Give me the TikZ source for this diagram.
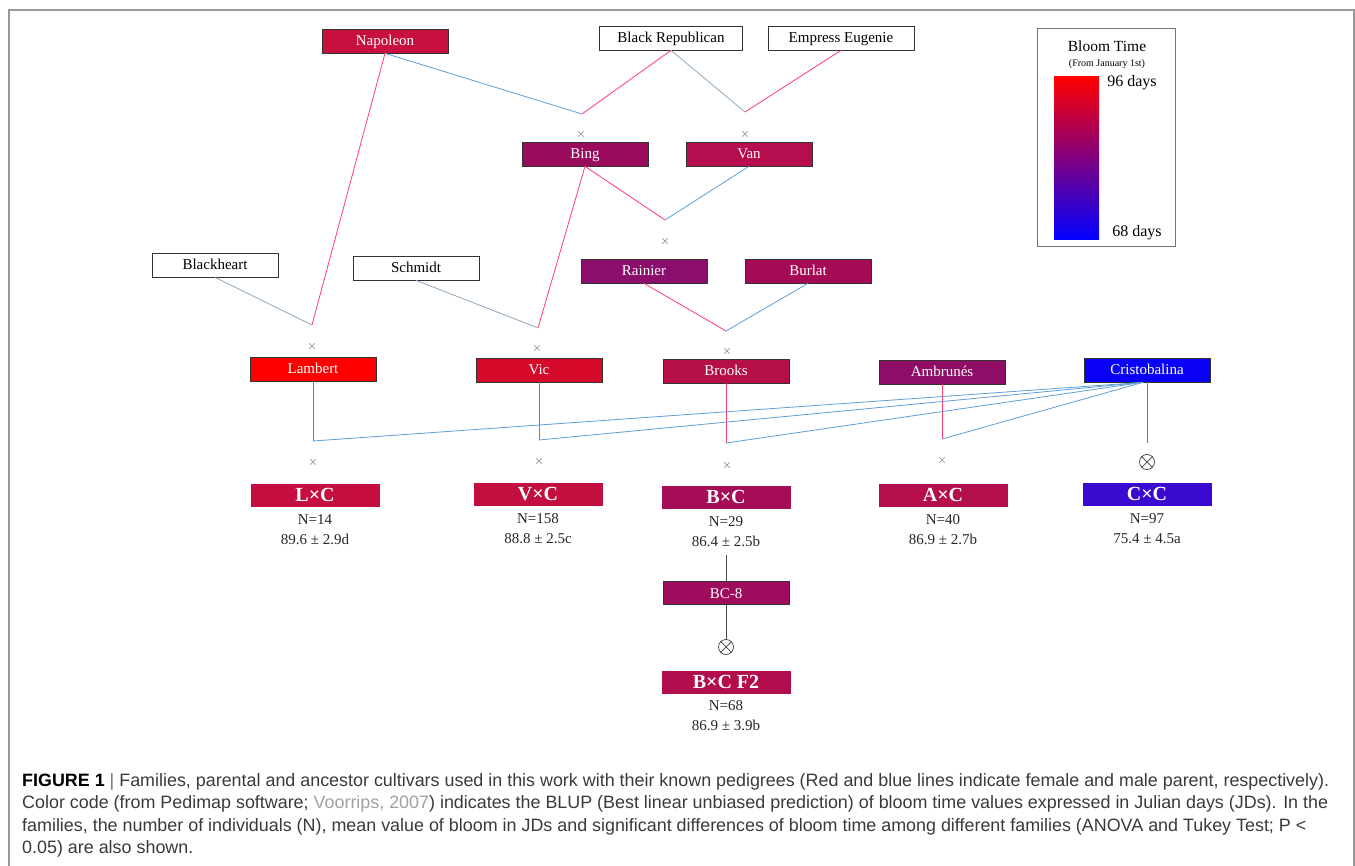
\documentclass[tikz,border=0pt]{standalone}
\usepackage{fontspec}
\setmainfont{Liberation Serif}
\newfontfamily\capsans{Liberation Sans}
\usetikzlibrary{calc}
\definecolor{femred}{HTML}{FF3D6A}
\definecolor{malblue}{HTML}{5E9ED6}
\definecolor{malgray}{HTML}{8FA6BD}
\definecolor{selfline}{HTML}{6E6EA8}
\definecolor{cNap}{HTML}{C8103F}
\definecolor{cBing}{HTML}{9A0B5E}
\definecolor{cVan}{HTML}{B50D4E}
\definecolor{cRai}{HTML}{8B0E6C}
\definecolor{cBur}{HTML}{A50B55}
\definecolor{cLam}{HTML}{FF0000}
\definecolor{cVic}{HTML}{D50A2A}
\definecolor{cBro}{HTML}{B60F47}
\definecolor{cAmb}{HTML}{8F0D66}
\definecolor{cCri}{HTML}{0A00F8}
\definecolor{cLC}{HTML}{C50F41}
\definecolor{cVC}{HTML}{C20F40}
\definecolor{cBC}{HTML}{A50D57}
\definecolor{cAC}{HTML}{B50E4D}
\definecolor{cCC}{HTML}{3B0AD0}
\definecolor{cBCe}{HTML}{A00C5D}
\definecolor{cFtwo}{HTML}{B20E4E}
\definecolor{capgray}{HTML}{3A3A3A}
\definecolor{linkgray}{HTML}{A0A0A0}
\begin{document}
\begin{tikzpicture}[x=1pt,y=-1pt,
  ped/.style={draw=black!80, line width=0.7pt, minimum width=126pt, minimum height=24pt, inner sep=0pt, text height=10pt, text depth=0pt, text=white, font=\fontsize{15}{15}\selectfont},
  wped/.style={ped, fill=white, text=black},
  fam/.style={minimum width=129pt, minimum height=23pt, inner sep=0pt, text height=13pt, text depth=0pt, text=white, font=\fontsize{20}{20}\selectfont\bfseries},
  stat/.style={anchor=north, inner sep=0pt, align=center, font=\fontsize{15}{19.5}\selectfont, text=black!85},
  xmark/.style={inner sep=0pt, text=black!45, font=\fontsize{15}{15}\selectfont},
  fem/.style={femred, line width=0.8pt},
  mal/.style={malblue, line width=0.8pt},
  malg/.style={malgray, line width=0.8pt},
  selfc/.style={circle, draw=black!75, line width=0.7pt, minimum size=15pt, inner sep=0pt},
  capline/.style={anchor=base west, inner sep=0pt, font=\capsans\fontsize{17.9}{17.9}\selectfont, text=capgray},
  legtxt/.style={inner sep=0pt, text=black},
]
\useasboundingbox (0,0) rectangle (1355,866);
\fill[white] (0,0) rectangle (1355,866);
\draw[black!40, line width=1.3pt] (9,866) -- (9,10) -- (1354,10) -- (1354,866);

% pedigree nodes
\node[ped, fill=cNap] (nap) at (385,41) {Napoleon};
\node[wped, minimum width=143pt] (br) at (671,38) {Black Republican};
\node[wped, minimum width=146pt] (ee) at (841,38) {Empress Eugenie};
\node[ped, fill=cBing] (bing) at (585,154) {Bing};
\node[ped, fill=cVan] (van) at (749,154) {Van};
\node[ped, fill=cRai] (rai) at (644,271) {Rainier};
\node[ped, fill=cBur] (bur) at (808,271) {Burlat};
\node[wped] (bh) at (215,265) {Blackheart};
\node[wped] (sch) at (416,268) {Schmidt};
\node[ped, fill=cLam] (lam) at (313,369) {Lambert};
\node[ped, fill=cVic] (vic) at (539,370) {Vic};
\node[ped, fill=cBro] (bro) at (726,371) {Brooks};
\node[ped, fill=cAmb] (amb) at (942,372) {Ambrunés};
\node[ped, fill=cCri] (cri) at (1147,370) {Cristobalina};

% families
\node[fam, fill=cLC] (lc) at (315,495) {L×C};
\node[fam, fill=cVC] (vc) at (538,494) {V×C};
\node[fam, fill=cBC] (bc) at (726,497) {B×C};
\node[fam, fill=cAC] (ac) at (943,495) {A×C};
\node[fam, fill=cCC] (cc) at (1147,494) {C×C};
\node[ped, fill=cBCe, minimum height=23pt] (bce) at (726,593) {BC-8};
\node[fam, fill=cFtwo] (ftwo) at (726,682) {B×C F2};

\node[stat] (lcs) at ($(lc.south)+(0,8)$) {N=14\\89.6 ± 2.9d};
\node[stat] (vcs) at ($(vc.south)+(0,8)$) {N=158\\88.8 ± 2.5c};
\node[stat] (bcs) at ($(bc.south)+(0,8)$) {N=29\\86.4 ± 2.5b};
\node[stat] (acs) at ($(ac.south)+(0,8)$) {N=40\\86.9 ± 2.7b};
\node[stat] (ccs) at ($(cc.south)+(0,8)$) {N=97\\75.4 ± 4.5a};
\begin{scope}
\clip (0,0) rectangle (1355,730.5);
\node[stat] (fts) at ($(ftwo.south)+(0,7)$) {N=68\\86.9 ± 3.9b};
\end{scope}

% join points
\coordinate (jBing) at (582,114);
\coordinate (jVan) at (745,112);
\coordinate (jRai) at (665,220);
\coordinate (jLam) at (312,325);
\coordinate (jVic) at (538,328);
\coordinate (jBro) at (726,331);
\coordinate (jLC) at (313,441);
\coordinate (jVC) at (539,440);
\coordinate (jBC) at (726,443);
\coordinate (jAC) at (942,439);
\coordinate (jCC) at (1147,443);
\coordinate (criOut) at ($(cri.south)+(-4,0)$);

% cross marks
\node[xmark] (xBing) at (581,135) {×};
\node[xmark] (xVan) at (745,135) {×};
\node[xmark] (xRai) at (665,242) {×};
\node[xmark] (xLam) at (312,347) {×};
\node[xmark] (xVic) at (537,349) {×};
\node[xmark] (xBro) at (727,352) {×};
\node[xmark] (xLC) at (313,463) {×};
\node[xmark] (xVC) at (539,462) {×};
\node[xmark] (xBC) at (727,466) {×};
\node[xmark] (xAC) at (942,461) {×};

% selfing marks
\node[selfc] (sCC) at (1147,462) {};
\draw[black!75, line width=0.7pt] (sCC.north west) -- (sCC.south east) (sCC.north east) -- (sCC.south west);
\node[selfc] (sF) at (726,647) {};
\draw[black!75, line width=0.7pt] (sF.north west) -- (sF.south east) (sF.north east) -- (sF.south west);

% connectors
\draw[mal] (nap.south) -- (jBing);
\draw[fem] (br.south) -- (jBing);
\draw[malg] (br.south) -- (jVan);
\draw[fem] (ee.south) -- (jVan);
\draw[fem] (bing.south) -- (jRai);
\draw[mal] (van.south) -- (jRai);
\draw[fem] (nap.south) -- (jLam);
\draw[malg] (bh.south) -- (jLam);
\draw[fem] (bing.south) -- (jVic);
\draw[malg] (sch.south) -- (jVic);
\draw[fem] (rai.south) -- (jBro);
\draw[mal] (bur.south) -- (jBro);
\draw[fem] (lam.south) -- (jLC);
\draw[fem] (vic.south) -- (jVC);
\draw[fem] (bro.south) -- (jBC);
\draw[fem] (amb.south) -- (jAC);
\draw[mal] (criOut) -- (jLC);
\draw[mal] (criOut) -- (jVC);
\draw[mal] (criOut) -- (jBC);
\draw[mal] (criOut) -- (jAC);
\draw[selfline, line width=0.8pt] (cri.south) -- (jCC);
\draw[black!70, line width=0.7pt] ($(bcs.south)+(0,8)$) -- (bce.north);
\draw[black!70, line width=0.7pt] (bce.south) -- (sF.north);

% legend
\node[draw=black!55, line width=1pt, minimum width=138pt, minimum height=218pt, inner sep=0pt] (leg) at (1106,138) {};
\node[legtxt, font=\fontsize{15.5}{15.5}\selectfont] (lt) at (1107,46) {Bloom Time};
\node[legtxt, font=\fontsize{10}{10}\selectfont] (lt2) at (1107,64) {(From January 1st)};
\shade[top color=red, bottom color=blue] (1054,77) rectangle (1099,240);
\node[legtxt, font=\fontsize{16}{16}\selectfont] (d96) at (1132,83) {96 days};
\node[legtxt, font=\fontsize{16}{16}\selectfont] (d68) at (1137,233) {68 days};

% caption
\node[capline] (cap1) at (22,786) {{\bfseries\color{black} FIGURE 1} {\color{black!55}|} Families, parental and ancestor cultivars used in this work with their known pedigrees (Red and blue lines indicate female and male parent, respectively).};
\node[capline] (cap2) at (22,808.5) {Color code (from Pedimap software; {\color{linkgray}Voorrips, 2007}) indicates the BLUP (Best linear unbiased prediction) of bloom time values expressed in Julian days (JDs). In the};
\node[capline] (cap3) at (22,831) {families, the number of individuals (N), mean value of bloom in JDs and significant differences of bloom time among different families (ANOVA and Tukey Test; P <};
\node[capline] (cap4) at (22,853) {0.05) are also shown.};
\end{tikzpicture}
\end{document}
